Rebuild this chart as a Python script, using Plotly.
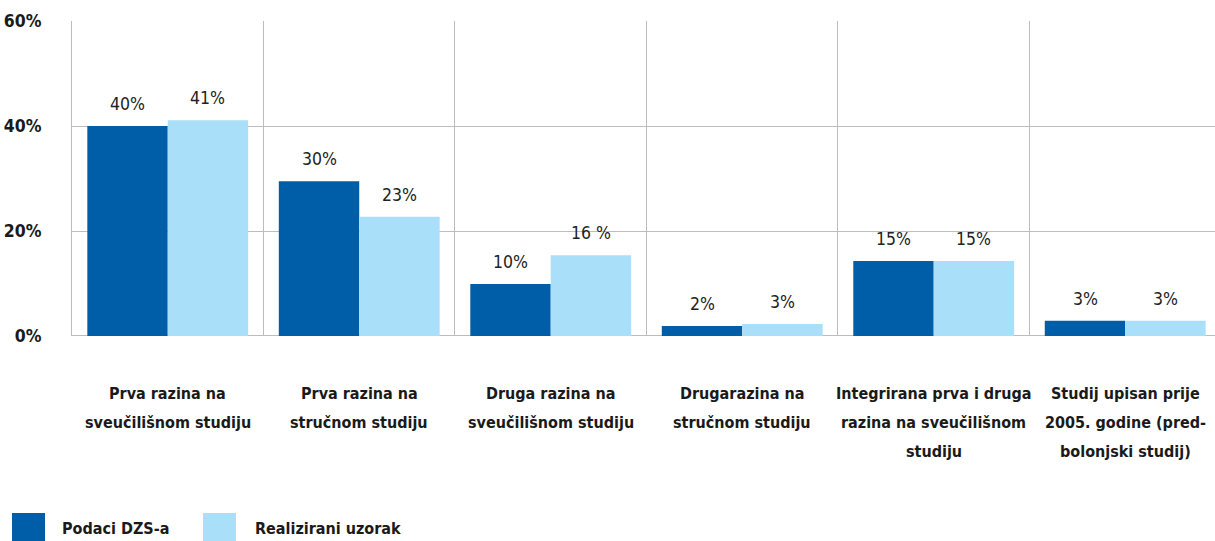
import plotly.graph_objects as go

categories = [
    ["Prva razina na", "sveučilišnom studiju"],
    ["Prva razina na", "stručnom studiju"],
    ["Druga razina na", "sveučilišnom studiju"],
    ["Drugarazina na", "stručnom studiju"],
    ["Integrirana prva i druga", "razina na sveučilišnom", "studiju"],
    ["Studij upisan prije", "2005. godine (pred-", "bolonjski studij)"],
]
dzs_values = [40.0, 29.5, 9.9, 1.9, 14.3, 2.9]
uzorak_values = [41.1, 22.7, 15.4, 2.3, 14.3, 2.9]
dzs_labels = ["40%", "30%", "10%", "2%", "15%", "3%"]
uzorak_labels = ["41%", "23%", "16 %", "3%", "15%", "3%"]
series_names = ["Podaci DZS-a", "Realizirani uzorak"]
y_ticks = [0, 20, 40, 60]
y_ticktext = ["0%", "20%", "40%", "60%"]

DARK = "#005ea8"
LIGHT = "#aadff9"
FONT = "DejaVu Sans Condensed, DejaVu Sans, sans-serif"
TXT = "#1a1a1a"
GRID = "#bdbdbd"
cat_keys = [" ".join(c) for c in categories]

fig = go.Figure()
fig.add_trace(go.Bar(x=cat_keys, y=dzs_values, name=series_names[0], marker_color=DARK,
                     marker_line_width=0, showlegend=False))
fig.add_trace(go.Bar(x=cat_keys, y=uzorak_values, name=series_names[1], marker_color=LIGHT,
                     marker_line_width=0, showlegend=False))

annotations = []
for i, key in enumerate(cat_keys):
    annotations.append(dict(x=key, y=dzs_values[i], xref="x", yref="y", text=dzs_labels[i],
                            showarrow=False, xshift=-40, yshift=22,
                            font=dict(family=FONT, size=17.5, color="#222222")))
    annotations.append(dict(x=key, y=uzorak_values[i], xref="x", yref="y", text=uzorak_labels[i],
                            showarrow=False, xshift=40, yshift=22,
                            font=dict(family=FONT, size=17.5, color="#222222")))
    # category labels, one annotation per line
    for j, line in enumerate(categories[i]):
        annotations.append(dict(x=key, y=0, xref="x", yref="paper", text="<b>" + line + "</b>",
                                showarrow=False, yanchor="middle", yshift=-(57 + 29 * j),
                                font=dict(family=FONT, size=16, color=TXT)))

# custom legend
shapes = []
leg_items = [(12, 45, DARK, 60, series_names[0]), (203, 236, LIGHT, 253, series_names[1])]
for x0, x1, col, tx, name in leg_items:
    shapes.append(dict(type="rect", xref="paper", yref="paper",
                       x0=(x0 - 72) / 1143, x1=(x1 - 72) / 1143,
                       y0=-(513 - 336) / 315 - (30 / 315), y1=-(513 - 336) / 315,
                       fillcolor=col, line_width=0, layer="above"))
    annotations.append(dict(x=(tx - 72) / 1143, y=-(528 - 336) / 315, xref="paper", yref="paper",
                            text="<b>" + name + "</b>", showarrow=False, xanchor="left",
                            yanchor="middle",
                            font=dict(family=FONT, size=16, color=TXT)))

fig.update_layout(
    width=1215, height=541,
    margin=dict(l=72, r=0, t=21, b=205),
    paper_bgcolor="white", plot_bgcolor="white",
    barmode="group", bargap=0.16, bargroupgap=0,
    annotations=annotations, shapes=shapes,
    showlegend=False,
    xaxis=dict(
        type="category", showticklabels=False,
        range=[-0.5, 5.469], tickson="boundaries", showgrid=True, gridcolor=GRID,
        gridwidth=1, ticks="", showline=False, zeroline=False, automargin=False,
    ),
    yaxis=dict(
        range=[0, 60], tickvals=y_ticks, ticktext=["<b>" + t + "</b>" for t in y_ticktext],
        showgrid=True, gridcolor=GRID, gridwidth=1, zeroline=False,
        showline=True, linecolor=GRID, linewidth=1, ticks="", automargin=False,
        tickfont=dict(family=FONT, size=17.5, color=TXT),
        ticklabelstandoff=26,
    ),
)
fig.add_hline(y=0, line_color="#a6a6a6", line_width=1.5, layer="below")
fig.write_html("out.html", config={"displayModeBar": False},
               post_script="document.body.style.margin='0';")
